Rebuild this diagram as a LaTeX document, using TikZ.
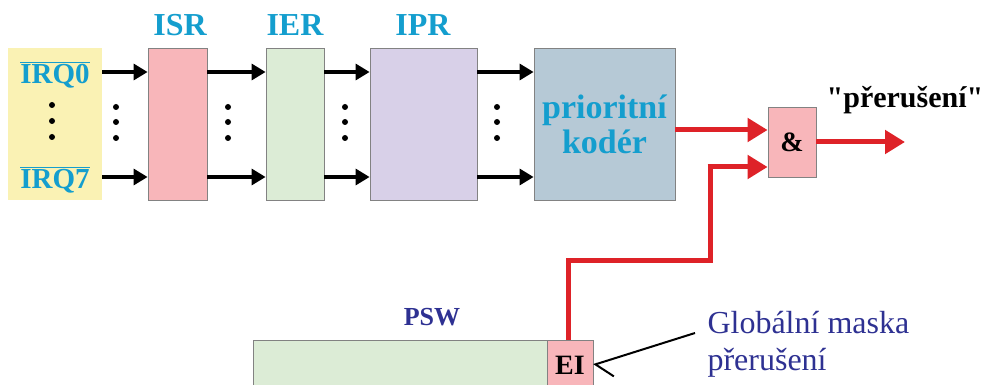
\documentclass[tikz,border=0pt]{standalone}
\usepackage{fontspec}
\setmainfont{Liberation Serif}
\newfontfamily\qfont[Ligatures=TeXOff]{Liberation Serif}
\usetikzlibrary{arrows.meta}
\definecolor{cyanlab}{RGB}{20,158,206}
\definecolor{dblue}{RGB}{46,49,146}
\definecolor{yel}{RGB}{250,242,180}
\definecolor{pinkf}{RGB}{248,182,186}
\definecolor{greenf}{RGB}{220,236,214}
\definecolor{lavf}{RGB}{216,208,232}
\definecolor{bgrey}{RGB}{182,201,214}
\definecolor{redl}{RGB}{222,34,40}
\definecolor{edgeg}{RGB}{130,130,130}
\tikzset{
  reg/.style={draw=edgeg, line width=0.8pt},
  blk/.style={line width=3.2pt, -{Triangle[length=14pt,width=16pt]}},
  redarr/.style={draw=redl, line width=5pt, -{Triangle[length=20pt,width=23pt]}},
  redln/.style={draw=redl, line width=5pt},
  cylab/.style={text=cyanlab, font=\fontsize{32}{32}\selectfont\bfseries},
  dotc/.style={circle, fill=black, inner sep=0pt, minimum size=6pt}
}
\begin{document}
\begin{tikzpicture}[x=1pt,y=-1pt]
\useasboundingbox (0,0) rectangle (997,385);
\clip (0,0) rectangle (997,385);
% boxes
\fill[yel] (8,48) rectangle (102,200);
\node[anchor=center, text=cyanlab, font=\fontsize{29}{29}\selectfont\bfseries] (irq0) at (55,75) {$\overline{\hbox{IRQ0}}$};
\node[anchor=center, text=cyanlab, font=\fontsize{29}{29}\selectfont\bfseries] (irq7) at (55,180) {$\overline{\hbox{IRQ7}}$};
\node[dotc] (y1) at (52,105) {};
\node[dotc] (y2) at (52,121) {};
\node[dotc] (y3) at (52,137) {};

\node[reg, fill=pinkf, minimum width=59pt, minimum height=152pt, inner sep=0pt] (isr) at (177.5,124) {};
\node[reg, fill=greenf, minimum width=58pt, minimum height=152pt, inner sep=0pt] (ier) at (295,124) {};
\node[reg, fill=lavf, minimum width=107pt, minimum height=152pt, inner sep=0pt] (ipr) at (423.5,124) {};
\node[reg, fill=bgrey, minimum width=141pt, minimum height=152pt, inner sep=0pt, align=center, text=cyanlab, font=\fontsize{34}{35}\selectfont\bfseries] (enc) at (604.5,124) {prioritní\\kodér};

\node[cylab] (lisr) at (180,25) {ISR};
\node[cylab] (lier) at (295,25) {IER};
\node[cylab] (lipr) at (423,25) {IPR};

% coordinates for arrow rows
\coordinate (a0) at (102,72);
\coordinate (a7) at (102,177);
\draw[blk] (a0) -- (isr.west |- a0);
\draw[blk] (a7) -- (isr.west |- a7);
\draw[blk] (isr.east |- a0) -- (ier.west |- a0);
\draw[blk] (isr.east |- a7) -- (ier.west |- a7);
\draw[blk] (ier.east |- a0) -- (ipr.west |- a0);
\draw[blk] (ier.east |- a7) -- (ipr.west |- a7);
\draw[blk] (ipr.east |- a0) -- (enc.west |- a0);
\draw[blk] (ipr.east |- a7) -- (enc.west |- a7);

% dots between boxes
\foreach \xx/\nm in {116/d1,228/d2,345/d3,497/d4}{
  \node[dotc] (\nm a) at (\xx,107) {};
  \node[dotc] (\nm b) at (\xx,122) {};
  \node[dotc] (\nm c) at (\xx,138) {};
}

% AND gate
\node[reg, fill=pinkf, minimum width=48pt, minimum height=70pt, inner sep=0pt, font=\fontsize{28}{28}\selectfont\bfseries] (and) at (792,142) {\&};
\draw[redarr] (enc.east |- 0,130) -- (and.west |- 0,130);
\coordinate (outend) at (905,142);
\draw[redarr] (and.east) -- (outend);
\node[font=\qfont\fontsize{30}{30}\selectfont\bfseries] (intr) at (905,100) {"přerušení"};

% PSW
\node[reg, fill=greenf, minimum width=294pt, minimum height=60pt, inner sep=0pt] (psw) at (400,370) {};
\node[reg, fill=pinkf, minimum width=46pt, minimum height=60pt, inner sep=0pt] (ei) at (570,370) {};
\node[font=\fontsize{28}{28}\selectfont\bfseries] (eit) at (570,365) {EI};
\node[text=dblue, font=\fontsize{26}{26}\selectfont\bfseries] (lpsw) at (432,317) {PSW};

\coordinate (r1) at (568,260);
\coordinate (r2) at (710,260);
\coordinate (r3) at (710,167);
\draw[redln] (568,340) -- (r1) -- (r2) -- (r3);
\draw[redarr] ([xshift=-2.5pt]r3) -- (and.west |- r3);

% global mask label
\node[anchor=west, align=left, text=dblue, font=\fontsize{32}{37}\selectfont] (gm) at (704,344) {Globální maska\\přerušení};
\coordinate (gl) at (695,333);
\draw[line width=2pt, -{Straight Barb[left, length=14pt, width=34pt]}] (gl) -- (ei.east |- 0,365);
\end{tikzpicture}
\end{document}
